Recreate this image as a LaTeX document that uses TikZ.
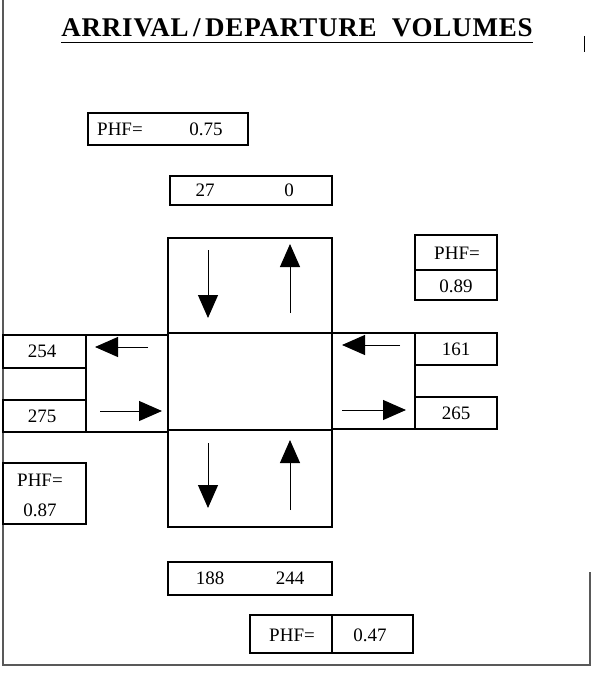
\documentclass[tikz,border=0pt]{standalone}
\usepackage{fontspec}
\setmainfont{Liberation Serif}
\usetikzlibrary{arrows.meta}
\usetikzlibrary{calc}

\begin{document}
\begin{tikzpicture}[x=1pt,y=-1pt,
        box/.style={line width=1.3pt},
        lane/.style={line width=1pt,-{Triangle[length=23pt,width=20pt]}},
        val/.style={font=\fontsize{19}{19}\selectfont}]
        \useasboundingbox (0,0) rectangle (597,677);
        
        % page edges
        \draw[line width=1.2pt,gray!70!black] (3,0)--(3,665)--(590,665)--(590,572);
        \draw[line width=1pt] (584,36)--(584,52);
        
        % title
        \node[font=\fontsize{27}{27}\selectfont\bfseries\addfontfeatures{LetterSpace=3},anchor=base,inner sep=0pt] (title) at (297,37) {ARRIVAL\,/\,DEPARTURE\ \ VOLUMES};
        \draw[line width=1pt] (title.base west)++(0,6)--($(title.base east)+(0,6)$);
        
        % intersection
        \draw[box] (168,238) rectangle (332,333);
        \draw[box] (168,333) rectangle (332,430);
        \draw[box] (168,430) rectangle (332,527);
        \draw[box] (86,335) rectangle (168,432);
        \draw[box] (332,333) rectangle (415,429);
        
        \draw[lane] (208,250)--(208,318);
        \draw[lane] (290,313)--(290,244);
        \draw[lane] (208,443)--(208,508);
        \draw[lane] (290,510)--(290,440);
        \draw[lane] (148,347)--(95,347);
        \draw[lane] (100,411)--(162,411);
        \draw[lane] (400,345)--(342,345);
        \draw[lane] (342,410)--(406,410);
        
        % north
        \draw[box] (88,113) rectangle (248,145);
        \node[val] (phfn) at (120,129) {PHF=};
        \node[val] (phfnv) at (206,129) {0.75};
        \draw[box] (170,176) rectangle (332,205);
        \node[val] (nin) at (205,190) {27};
        \node[val] (nout) at (289,190) {0};
        
        % east
        \draw[box] (415,235) rectangle (497,300);
        \draw[box] (415,270)--(497,270);
        \node[val] (phfe) at (457,253) {PHF=};
        \node[val] (phfev) at (456,286) {0.89};
        \draw[box] (415,333) rectangle (497,365);
        \node[val] (eout) at (456,349) {161};
        \draw[box] (415,397) rectangle (497,429);
        \node[val] (ein) at (456,413) {265};
        
        % west
        \draw[box] (3,335) rectangle (86,368);
        \node[val] (wout) at (42,351) {254};
        \draw[box] (3,400) rectangle (86,432);
        \node[val] (win) at (42,416) {275};
        \draw[box] (3,463) rectangle (86,524);
        \node[val] (phfw) at (40,480) {PHF=};
        \node[val] (phfwv) at (40,510) {0.87};
        
        % south
        \draw[box] (168,562) rectangle (332,595);
        \node[val] (sout) at (210,578) {188};
        \node[val] (sin) at (290,578) {244};
        \draw[box] (250,615) rectangle (413,653);
        \draw[box] (332,615)--(332,653);
        \node[val] (phfs) at (292,635) {PHF=};
        \node[val] (phfsv) at (370,635) {0.47};
        
    \end{tikzpicture}
\end{document}
